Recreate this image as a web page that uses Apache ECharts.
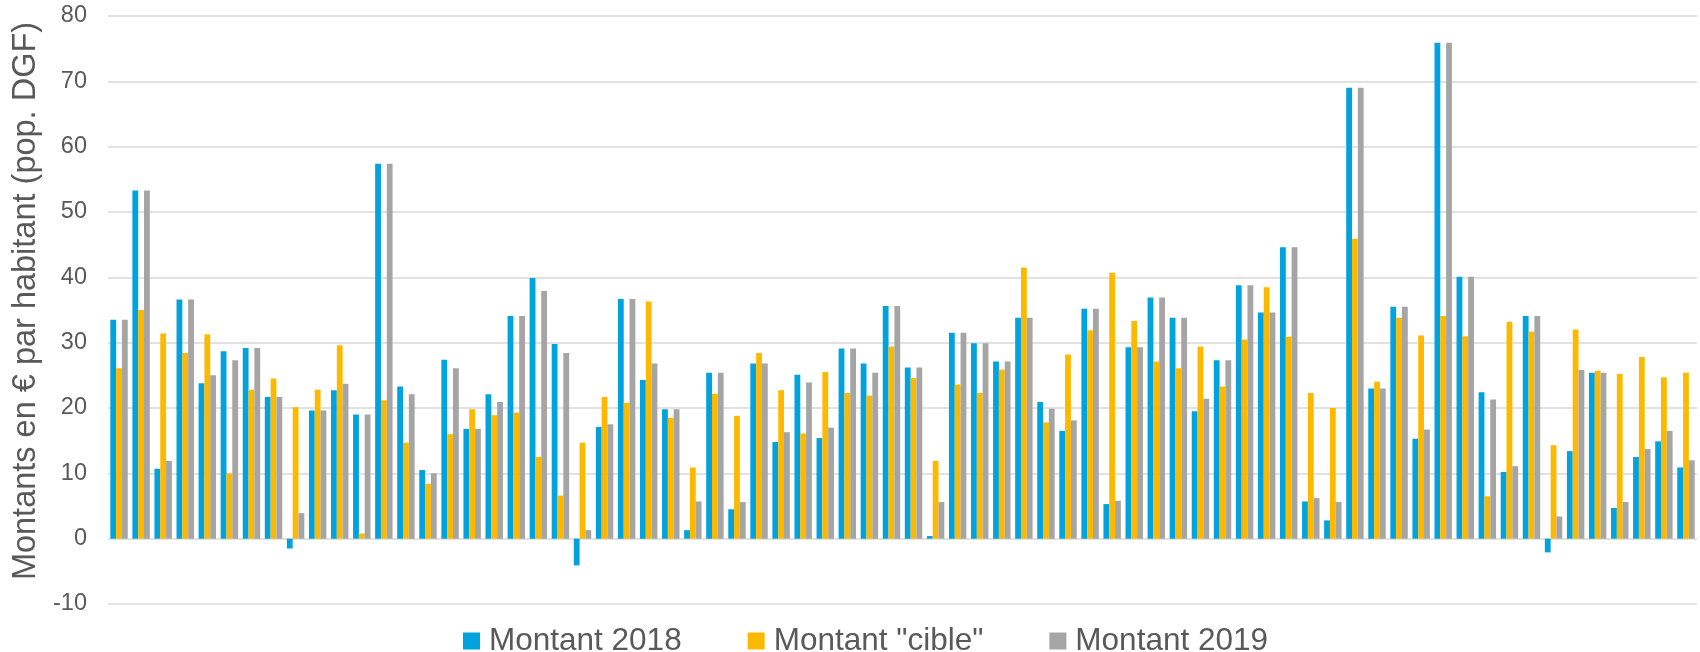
<!DOCTYPE html>
<html>
<head>
<meta charset="utf-8">
<script src="https://cdn.jsdelivr.net/npm/echarts@6/dist/echarts.min.js"></script>
<style>
  html, body { margin: 0; padding: 0; background: #fff; }
  #chart { width: 1700px; height: 652px; }
</style>
</head>
<body>
<div id="chart"></div>
<script>
// valeurs (72 territoires, sans libellé)
const montant2018 = [33.5, 53.3, 10.7, 36.6, 23.8, 28.7, 29.2, 21.7, -1.5, 19.6,
  22.7, 19.0, 57.4, 23.3, 10.5, 27.4, 16.8, 22.1, 34.1, 39.9,
  29.8, -4.1, 17.1, 36.7, 24.3, 19.8, 1.3, 25.4, 4.5, 26.8,
  14.8, 25.1, 15.4, 29.1, 26.8, 35.6, 26.2, 0.4, 31.5, 29.9,
  27.1, 33.8, 20.9, 16.5, 35.2, 5.3, 29.3, 36.9, 33.8, 19.5,
  27.3, 38.8, 34.6, 44.6, 5.7, 2.8, 69.0, 23.0, 35.5, 15.3,
  75.9, 40.1, 22.4, 10.2, 34.1, -2.1, 13.4, 25.4, 4.7, 12.5, 14.9, 10.9];

const montantCible = [26.1, 35.0, 31.4, 28.4, 31.3, 10.0, 22.8, 24.5, 20.1, 22.8,
  29.6, 0.8, 21.2, 14.7, 8.4, 16.0, 19.8, 18.9, 19.3, 12.5,
  6.6, 14.7, 21.7, 20.8, 36.3, 18.5, 10.9, 22.2, 18.8, 28.4,
  22.7, 16.1, 25.5, 22.3, 21.9, 29.4, 24.6, 11.9, 23.6, 22.3,
  25.9, 41.5, 17.8, 28.2, 31.9, 40.7, 33.3, 27.1, 26.1, 29.4,
  23.3, 30.5, 38.5, 30.9, 22.3, 20.0, 45.9, 24.0, 33.8, 31.1,
  34.1, 31.0, 6.5, 33.2, 31.7, 14.3, 32.0, 25.7, 25.2, 27.8, 24.7, 25.4];

const montant2019 = [33.5, 53.3, 11.9, 36.6, 25.0, 27.3, 29.2, 21.7, 3.9, 19.6,
  23.7, 19.0, 57.4, 22.1, 10.0, 26.1, 16.8, 20.9, 34.1, 37.9,
  28.4, 1.3, 17.5, 36.7, 26.8, 19.8, 5.7, 25.4, 5.6, 26.8,
  16.3, 23.9, 17.0, 29.1, 25.4, 35.6, 26.2, 5.6, 31.5, 29.9,
  27.1, 33.8, 19.9, 18.1, 35.2, 5.8, 29.3, 36.9, 33.8, 21.4,
  27.3, 38.8, 34.6, 44.6, 6.2, 5.6, 69.0, 23.0, 35.5, 16.7,
  75.9, 40.1, 21.3, 11.1, 34.1, 3.4, 25.8, 25.4, 5.6, 13.7, 16.5, 12.0];

const categories = montant2018.map((v, i) => String(i + 1));
const seriesNames = ['Montant 2018', 'Montant "cible"', 'Montant 2019'];
const colors = ['#00A3DD', '#FDB900', '#A5A5A5'];

const font = '"Liberation Sans", Arial, sans-serif';
const textGray = '#595959';

const chart = echarts.init(document.getElementById('chart'));

const option = {
  animation: false,
  color: colors,
  grid: { left: 108, right: 3, top: 16, bottom: 48 },
  legend: {
    left: 458,
    top: 620,
    icon: 'rect',
    itemWidth: 17,
    itemHeight: 17,
    itemGap: 66,
    textStyle: { fontFamily: font, fontSize: 31.5, color: textGray, padding: [0, 0, 0, 4] },
    data: seriesNames
  },
  xAxis: {
    type: 'category',
    data: categories,
    axisLine: { show: false },
    axisTick: { show: false },
    axisLabel: { show: false }
  },
  yAxis: {
    type: 'value',
    min: -10,
    max: 80,
    interval: 10,
    name: 'Montants en € par habitant (pop. DGF)',
    nameLocation: 'middle',
    nameGap: 63,
    // titre un peu remonté comme dans Excel
    nameTextStyle: { fontFamily: font, fontSize: 32.5, color: textGray, padding: [0, 0, 0, 18] },
    axisLine: { show: false },
    axisTick: { show: false },
    axisLabel: { fontFamily: font, fontSize: 23.5, color: textGray, margin: 21 },
    splitLine: { lineStyle: { color: '#D9D9D9', width: 1.5 } }
  },
  series: [
    { name: seriesNames[0], type: 'bar', data: montant2018, barGap: '0%', barCategoryGap: '21%' },
    { name: seriesNames[1], type: 'bar', data: montantCible, barGap: '0%', barCategoryGap: '21%' },
    { name: seriesNames[2], type: 'bar', data: montant2019, barGap: '0%', barCategoryGap: '21%' }
  ]
};

chart.setOption(option);
window.addEventListener('resize', () => chart.resize());
</script>
</body>
</html>
